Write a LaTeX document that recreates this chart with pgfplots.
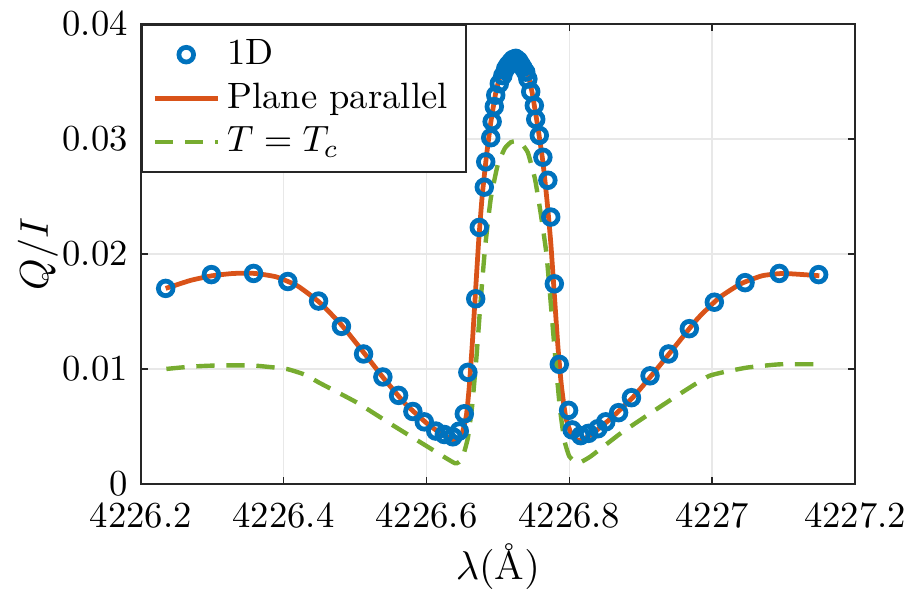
\documentclass[border=0pt]{standalone}
\usepackage{pgfplots}
\pgfplotsset{compat=1.18}
\definecolor{mblue}{HTML}{0072BD}
\definecolor{morange}{HTML}{D95319}
\definecolor{mgreen}{HTML}{77AC30}
\definecolor{axgray}{gray}{0.15}

\begin{document}
\begin{tikzpicture}
\useasboundingbox (-38.4pt,-29.2pt) rectangle (208.9pt,132.1pt);
\begin{axis}[
    scale only axis,
    width=195pt, height=125.6pt,
    xmin=4226.2, xmax=4227.2,
    ymin=0, ymax=0.04,
    xtick={4226.2,4226.4,4226.6,4226.8,4227,4227.2},
    xticklabels={4226.2,4226.4,4226.6,4226.8,4227,4227.2},
    ytick={0,0.01,0.02,0.03,0.04},
    yticklabels={0,0.01,0.02,0.03,0.04},
    scaled x ticks=false, scaled y ticks=false,
    xticklabel style={yshift=-1.5pt},
    tick align=inside, ticks=both, tick pos=both,
    major tick length=2pt,
    axis line style={axgray, line width=0.5pt},
    every tick/.style={axgray, line width=0.4pt},
    grid=major,
    major grid style={gray!18, line width=0.4pt},
    xlabel={$\lambda(\mbox{\AA})$},
    ylabel={$Q/I$},
    xlabel style={at={(axis description cs:0.5,-0.18)}, anchor=center, font=\fontsize{11}{13}\selectfont},
    ylabel style={at={(axis description cs:-0.144,0.5)}, anchor=center, font=\fontsize{11}{13}\selectfont},
    legend cell align=left,
    legend style={at={(0,1)}, anchor=north west, draw=axgray, line width=0.5pt,
        fill=white, font=\normalsize, inner xsep=3pt, inner ysep=2pt, row sep=-0.5pt},
]

% 1D
\addplot[only marks, mark=o, mark size=2pt, mblue, line width=1.3pt] coordinates {
(4226.235,0.0170) (4226.299,0.0182) (4226.358,0.0183) (4226.406,0.0176)
(4226.449,0.0159) (4226.481,0.0137) (4226.512,0.0113) (4226.539,0.0093)
(4226.561,0.0077) (4226.581,0.0063) (4226.597,0.0054) (4226.613,0.0046)
(4226.625,0.0043) (4226.637,0.0041) (4226.646,0.0046) (4226.653,0.0061)
(4226.658,0.0097) (4226.669,0.0161) (4226.674,0.0223) (4226.681,0.0258)
(4226.683,0.0280) (4226.690,0.0301) (4226.692,0.0315) (4226.695,0.0328)
(4226.697,0.0338) (4226.702,0.0348) (4226.707,0.0355) (4226.711,0.0361)
(4226.714,0.0364) (4226.718,0.0367) (4226.721,0.0369) (4226.725,0.0370)
(4226.729,0.0368) (4226.732,0.0365) (4226.735,0.0362) (4226.739,0.0358)
(4226.742,0.0352) (4226.746,0.0341) (4226.751,0.0329) (4226.753,0.0317)
(4226.758,0.0303) (4226.763,0.0284) (4226.770,0.0264) (4226.774,0.0232)
(4226.779,0.0174) (4226.786,0.0104) (4226.799,0.0064) (4226.804,0.0047)
(4226.816,0.0042) (4226.827,0.0044) (4226.840,0.0048) (4226.851,0.0054)
(4226.869,0.0062) (4226.887,0.0075) (4226.913,0.0094) (4226.939,0.0113)
(4226.968,0.0135) (4227.003,0.0158) (4227.046,0.0175) (4227.094,0.0183)
(4227.149,0.0182)
};
\addlegendentry{1D}

% Plane parallel
\addplot[morange, line width=1.3pt, smooth, tension=0.3] coordinates {
(4226.235,0.0170) (4226.27,0.0177) (4226.30,0.0181) (4226.33,0.0183)
(4226.36,0.0183) (4226.39,0.0180) (4226.42,0.0172) (4226.45,0.0158)
(4226.48,0.0139) (4226.51,0.0116) (4226.54,0.0092) (4226.57,0.0070)
(4226.60,0.0053) (4226.62,0.0044) (4226.635,0.0039) (4226.642,0.0038)
(4226.650,0.0044) (4226.656,0.0060) (4226.660,0.0085) (4226.664,0.0120)
(4226.668,0.0160) (4226.673,0.0210) (4226.678,0.0250) (4226.684,0.0285)
(4226.690,0.0314) (4226.697,0.0340) (4226.705,0.0359) (4226.713,0.0369)
(4226.720,0.0373) (4226.726,0.0374) (4226.732,0.0372) (4226.740,0.0362)
(4226.748,0.0340) (4226.756,0.0310) (4226.763,0.0280) (4226.769,0.0245)
(4226.774,0.0210) (4226.779,0.0165) (4226.784,0.0120) (4226.789,0.0085)
(4226.795,0.0058) (4226.803,0.0043) (4226.812,0.0038) (4226.820,0.0039)
(4226.835,0.0045) (4226.86,0.0058) (4226.89,0.0076) (4226.92,0.0098)
(4226.95,0.0121) (4226.98,0.0144) (4227.01,0.0162) (4227.04,0.0174)
(4227.07,0.0181) (4227.10,0.0183) (4227.15,0.0181)
};
\addlegendentry{Plane parallel}

% T = Tc
\addplot[mgreen, line width=1.2pt, dash pattern=on 5pt off 3.2pt, smooth, tension=0.25] coordinates {
(4226.236,0.0100) (4226.27,0.0102) (4226.306,0.0103) (4226.357,0.0103)
(4226.404,0.0100) (4226.43,0.0095) (4226.45,0.0088) (4226.502,0.0071)
(4226.553,0.0051) (4226.600,0.0033) (4226.640,0.0018) (4226.650,0.0022)
(4226.658,0.0040) (4226.664,0.0068) (4226.670,0.0110) (4226.676,0.0160)
(4226.682,0.0205) (4226.690,0.0248) (4226.700,0.0278) (4226.710,0.0292)
(4226.718,0.0297) (4226.725,0.0298) (4226.733,0.0296) (4226.742,0.0288)
(4226.752,0.0265) (4226.760,0.0235) (4226.768,0.0200) (4226.775,0.0150)
(4226.781,0.0105) (4226.787,0.0065) (4226.793,0.0038) (4226.800,0.0024)
(4226.812,0.0018) (4226.830,0.0024) (4226.874,0.0045) (4226.944,0.0074)
(4226.996,0.0094) (4227.047,0.0101) (4227.094,0.0104) (4227.147,0.0104)
};
\addlegendentry{$T=T_c$}

\end{axis}
\end{tikzpicture}
\end{document}
